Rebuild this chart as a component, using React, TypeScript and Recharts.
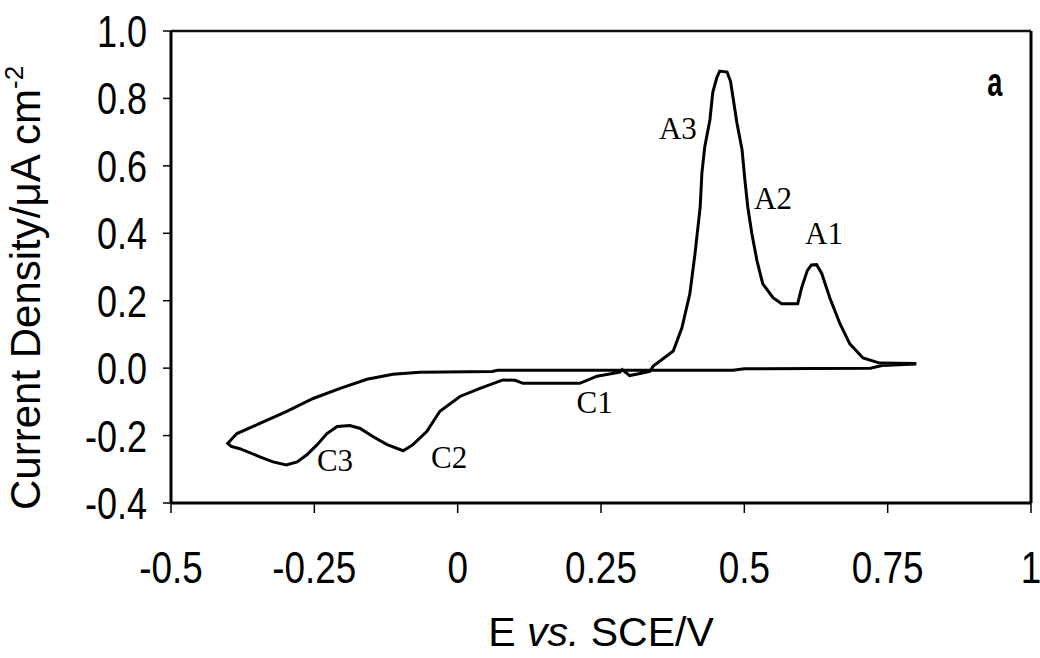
import React from 'react';
import {
  LineChart, Line, XAxis, YAxis, ReferenceLine, ReferenceDot
} from 'recharts';

// cyclic voltammogram, traced in path order (upper return branch, then lower/anodic branch)
const potential = [
  0.80, 0.74, 0.72, 0.50, 0.48, 0.30, 0.07, 0.06, -0.066, -0.113, -0.158, -0.205,
  -0.252, -0.298, -0.345, -0.385, -0.401, -0.395, -0.380, -0.345, -0.322, -0.299,
  -0.280, -0.263, -0.245, -0.228, -0.210, -0.188, -0.170, -0.148, -0.123, -0.095,
  -0.078, -0.054, -0.031, 0.004, 0.039, 0.079, 0.100, 0.114, 0.213, 0.243, 0.283,
  0.287, 0.300, 0.318, 0.335, 0.341, 0.353, 0.376, 0.391, 0.405, 0.414, 0.423,
  0.426, 0.431, 0.440, 0.445, 0.452, 0.457, 0.470, 0.476, 0.480, 0.487, 0.496,
  0.501, 0.506, 0.513, 0.522, 0.532, 0.550, 0.565, 0.593, 0.600, 0.610, 0.617,
  0.626, 0.635, 0.649, 0.667, 0.684, 0.707, 0.736, 0.80
];
const currentDensity = [
  0.012, 0.008, 0.0, -0.002, -0.006, -0.006, -0.006, -0.010, -0.012, -0.018, -0.033, -0.060,
  -0.090, -0.128, -0.164, -0.194, -0.223, -0.232, -0.239, -0.263, -0.278, -0.287,
  -0.278, -0.257, -0.227, -0.194, -0.173, -0.170, -0.179, -0.203, -0.227, -0.245,
  -0.227, -0.188, -0.128, -0.084, -0.060, -0.035, -0.036, -0.045, -0.045, -0.024, -0.012,
  -0.004, -0.022, -0.016, -0.010, 0.006, 0.021, 0.051, 0.119, 0.221, 0.340, 0.478,
  0.579, 0.657, 0.737, 0.818, 0.862, 0.881, 0.878, 0.850, 0.806, 0.728, 0.648,
  0.558, 0.478, 0.400, 0.319, 0.251, 0.209, 0.191, 0.191, 0.239, 0.290, 0.306,
  0.307, 0.281, 0.209, 0.131, 0.072, 0.030, 0.015, 0.014
];

const xTicks = [-0.5, -0.25, 0, 0.25, 0.5, 0.75, 1];
const yTicks = [-0.4, -0.2, 0, 0.2, 0.4, 0.6, 0.8, 1.0];

const peakNames = ['A3', 'A2', 'A1', 'C3', 'C2', 'C1'];
const peakE = [0.384, 0.550, 0.639, -0.214, -0.015, 0.239];
const peakJ = [0.713, 0.504, 0.400, -0.272, -0.263, -0.101];

const data = potential.map((e, i) => ({ e, j: currentDensity[i] }));

const sans = '"Liberation Sans", Arial, sans-serif';
const serif = '"Liberation Serif", "Times New Roman", serif';

const XTick = ({ x, y, payload }: any) => (
  <g transform={`translate(${x},${y + 70})`}>
    <text transform="scale(0.82,1)" textAnchor="middle" fontSize={45} fontFamily={sans} fill="#000">
      {String(payload.value)}
    </text>
  </g>
);

const YTick = ({ x, y, payload }: any) => (
  <g transform={`translate(${x - 16},${y + 16})`}>
    <text transform="scale(0.8,1)" textAnchor="end" fontSize={45} fontFamily={sans} fill="#000">
      {Number(payload.value).toFixed(1)}
    </text>
  </g>
);

const YTitle = () => (
  <text transform="translate(40,510) rotate(-90)" textAnchor="start" fontSize={42} fontFamily={sans} fill="#000">
    Current Density/μA cm
    <tspan fontSize={26} dy={-17}>-2</tspan>
  </text>
);

const XTitle = () => (
  <text x={601} y={646} textAnchor="middle" fontSize={41} fontFamily={sans} fill="#000">
    E <tspan fontStyle="italic">vs.</tspan> SCE/V
  </text>
);

const PanelLetter = ({ viewBox }: any) => (
  <g transform={`translate(${viewBox.x},${viewBox.y + 10})`}>
    <text transform="scale(0.68,1)" textAnchor="middle" fontSize={40} fontWeight={900} fontFamily={sans} fill="#000">
      a
    </text>
  </g>
);

export default function App() {
  return (
    <div style={{ width: 1040, height: 658, background: '#fff' }}>
      <style>{'body{margin:0}'}</style>
      <LineChart
        width={1040}
        height={658}
        data={data}
        margin={{ top: 31, right: 9, left: 0, bottom: 0 }}
      >
        <XAxis
          dataKey="e"
          type="number"
          domain={[-0.5, 1]}
          ticks={xTicks}
          allowDataOverflow
          height={155}
          axisLine={{ stroke: '#000', strokeWidth: 3 }}
          tickLine={{ stroke: '#000', strokeWidth: 1.5 }}
          tickSize={10}
          tickMargin={0}
          tick={<XTick />}
          label={<XTitle />}
        />
        <YAxis
          type="number"
          domain={[-0.4, 1]}
          ticks={yTicks}
          allowDataOverflow
          width={171}
          axisLine={{ stroke: '#000', strokeWidth: 3 }}
          tickLine={{ stroke: '#000', strokeWidth: 1.5 }}
          tickSize={8}
          tickMargin={0}
          tick={<YTick />}
          label={<YTitle />}
        />
        <ReferenceLine y={1} stroke="#111" strokeWidth={2.5} />
        <ReferenceLine x={1} stroke="#000" strokeWidth={3} />
        <Line
          dataKey="j"
          type="linear"
          stroke="#000"
          strokeWidth={3}
          dot={false}
          activeDot={false}
          isAnimationActive={false}
        />
        {peakNames.map((name, i) => (
          <ReferenceDot
            key={name}
            x={peakE[i]}
            y={peakJ[i]}
            r={0}
            stroke="none"
            fill="none"
            label={{ value: name, position: 'center', fontSize: 31, fontFamily: serif, fill: '#000' }}
          />
        ))}
        <ReferenceDot x={0.937} y={0.836} r={0} stroke="none" fill="none" label={<PanelLetter />} />
      </LineChart>
    </div>
  );
}
